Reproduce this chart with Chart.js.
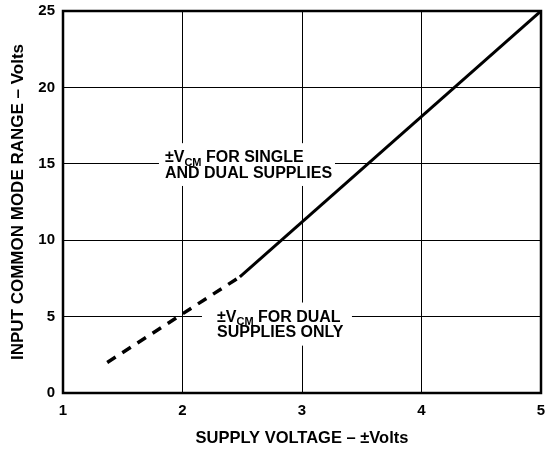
<!DOCTYPE html>
<html><head><meta charset="utf-8">
<script src="https://cdn.jsdelivr.net/npm/chart.js@4/dist/chart.umd.min.js"></script>
<style>html,body{margin:0;padding:0;background:#fff;} canvas{display:block}</style>
</head><body>
<div style="width:548px;height:451px"><canvas id="c" width="548" height="451"></canvas></div>
<script>
// ---- data ----
const xTickValues = [1, 2, 3, 4, 5];
const yTickValues = [0, 5, 10, 15, 20, 25];
const dualOnlyX = [1.37, 2.48];
const dualOnlyY = [2.0, 7.6];
const singleDualX = [2.48, 5.0];
const singleDualY = [7.6, 25.0];
const xTitle = 'SUPPLY VOLTAGE – ±Volts';
const yTitle = 'INPUT COMMON MODE RANGE – Volts';
const note1 = [[['±V', false], ['CM', true], [' FOR SINGLE', false]], [['AND DUAL SUPPLIES', false]]];
const note2 = [[['±V', false], ['CM', true], [' FOR DUAL', false]], [['SUPPLIES ONLY', false]]];

const FONT = "'Liberation Sans', Arial, Helvetica, sans-serif";

function pts(xs, ys) { return xs.map((x, i) => ({ x: x, y: ys[i] })); }

const notesPlugin = {
  id: 'notes',
  beforeDatasetsDraw(chart) {
    const ctx = chart.ctx, xs = chart.scales.x, ys = chart.scales.y;
    const notes = [
      { box: [1.803, 3.276, 16.35, 13.55], dx: 6, lines: note1 },
      { box: [2.163, 3.418, 5.92, 3.1], dx: 15, lines: note2 }
    ];
    ctx.save();
    notes.forEach(n => {
      const l = xs.getPixelForValue(n.box[0]), r = xs.getPixelForValue(n.box[1]);
      const t = ys.getPixelForValue(n.box[2]), b = ys.getPixelForValue(n.box[3]);
      ctx.fillStyle = '#fff';
      ctx.fillRect(l, t, r - l, b - t);
      ctx.fillStyle = '#000';
      ctx.textBaseline = 'alphabetic';
      ctx.textAlign = 'left';
      n.lines.forEach((segs, li) => {
        let x = l + n.dx;
        const y = t + 19 + li * 15.5;
        segs.forEach(([s, sub]) => {
          ctx.font = (sub ? 'bold 11px ' : 'bold 16px ') + FONT;
          ctx.fillText(s, x, y + (sub ? 3.5 : 0));
          x += ctx.measureText(s).width;
        });
      });
    });
    ctx.restore();
  },
  afterDatasetsDraw(chart) {
    const ctx = chart.ctx, a = chart.chartArea;
    ctx.save();
    ctx.strokeStyle = '#000';
    ctx.lineWidth = 2.5;
    ctx.strokeRect(a.left, a.top, a.right - a.left, a.bottom - a.top);
    ctx.restore();
  }
};

new Chart(document.getElementById('c'), {
  type: 'scatter',
  data: {
    datasets: [
      {
        label: 'dual only', data: pts(dualOnlyX, dualOnlyY), showLine: true,
        borderColor: '#000', borderWidth: 3.5, borderDash: [10, 8], pointRadius: 0, fill: false
      },
      {
        label: 'single and dual', data: pts(singleDualX, singleDualY), showLine: true,
        borderColor: '#000', borderWidth: 3, pointRadius: 0, fill: false
      }
    ]
  },
  options: {
    responsive: false,
    devicePixelRatio: 1,
    animation: false,
    layout: { padding: { top: 11, right: 7, left: 0, bottom: 0 } },
    plugins: { legend: { display: false }, tooltip: { enabled: false } },
    scales: {
      x: {
        type: 'linear', min: 1, max: 5,
        afterBuildTicks: s => { s.ticks = xTickValues.map(v => ({ value: v })); },
        afterFit: s => { s.height = 58; s.paddingLeft = 0; s.paddingRight = 0; },
        grid: { color: '#000', lineWidth: 1, drawTicks: false },
        border: { display: false },
        ticks: { color: '#000', padding: 9, font: { family: FONT, size: 15, weight: 'bold' }, maxRotation: 0 },
        title: { display: true, text: xTitle, color: '#000', font: { family: FONT, size: 16.5, weight: 'bold' }, padding: { top: 0, bottom: 3 } }
      },
      y: {
        type: 'linear', min: 0, max: 25,
        afterBuildTicks: s => { s.ticks = yTickValues.map(v => ({ value: v })); },
        afterFit: s => { s.width = 63; s.paddingTop = 0; s.paddingBottom = 0; },
        grid: { color: '#000', lineWidth: 1, drawTicks: false },
        border: { display: false },
        ticks: { color: '#000', padding: 8, font: { family: FONT, size: 15, weight: 'bold' } },
        title: { display: true, text: yTitle, color: '#000', font: { family: FONT, size: 17, weight: 'bold' }, padding: { top: 8, bottom: 0 } }
      }
    }
  },
  plugins: [notesPlugin]
});
</script>
</body></html>
